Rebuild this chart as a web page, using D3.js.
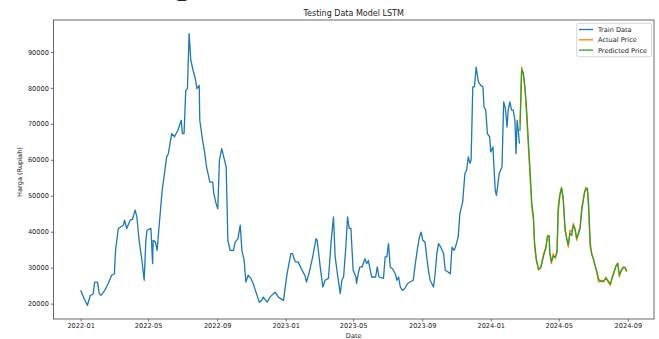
<!DOCTYPE html>
<html><head><meta charset="utf-8">
<script src="https://cdn.jsdelivr.net/npm/d3@7"></script>
<style>
html,body{margin:0;padding:0;background:#fff;}
svg{display:block;font-family:"DejaVu Sans",sans-serif;}
</style></head>
<body><svg id="c" width="659" height="339"></svg>
<script>
const trainDates = ["2022-01-01","2022-01-07","2022-01-13","2022-01-18","2022-01-23","2022-01-26","2022-01-31","2022-02-03","2022-02-06","2022-02-13","2022-02-19","2022-02-25","2022-03-02","2022-03-04","2022-03-09","2022-03-18","2022-03-20","2022-03-24","2022-03-30","2022-04-03","2022-04-08","2022-04-11","2022-04-15","2022-04-20","2022-04-24","2022-04-27","2022-04-29","2022-05-06","2022-05-09","2022-05-10","2022-05-14","2022-05-17","2022-05-20","2022-05-24","2022-05-26","2022-05-30","2022-06-03","2022-06-06","2022-06-12","2022-06-17","2022-06-23","2022-06-29","2022-07-01","2022-07-04","2022-07-07","2022-07-10","2022-07-13","2022-07-16","2022-07-20","2022-07-24","2022-07-27","2022-07-31","2022-08-01","2022-08-06","2022-08-10","2022-08-13","2022-08-19","2022-08-24","2022-08-26","2022-08-30","2022-09-02","2022-09-05","2022-09-09","2022-09-14","2022-09-17","2022-09-20","2022-09-24","2022-09-30","2022-10-03","2022-10-08","2022-10-12","2022-10-15","2022-10-19","2022-10-22","2022-10-26","2022-10-31","2022-11-04","2022-11-09","2022-11-15","2022-11-19","2022-11-22","2022-11-29","2022-12-04","2022-12-13","2022-12-19","2022-12-28","2023-01-03","2023-01-10","2023-01-13","2023-01-18","2023-01-23","2023-01-30","2023-02-04","2023-02-07","2023-02-12","2023-02-18","2023-02-24","2023-02-26","2023-03-03","2023-03-08","2023-03-12","2023-03-18","2023-03-23","2023-03-27","2023-03-30","2023-04-03","2023-04-08","2023-04-11","2023-04-14","2023-04-18","2023-04-21","2023-04-24","2023-04-27","2023-05-01","2023-05-06","2023-05-07","2023-05-10","2023-05-13","2023-05-17","2023-05-22","2023-05-25","2023-05-28","2023-05-31","2023-06-03","2023-06-10","2023-06-13","2023-06-16","2023-06-24","2023-06-27","2023-06-30","2023-07-03","2023-07-06","2023-07-10","2023-07-15","2023-07-18","2023-07-21","2023-07-24","2023-07-28","2023-08-01","2023-08-06","2023-08-10","2023-08-16","2023-08-19","2023-08-23","2023-08-27","2023-08-30","2023-09-02","2023-09-06","2023-09-09","2023-09-12","2023-09-15","2023-09-18","2023-09-21","2023-09-24","2023-09-27","2023-09-30","2023-10-04","2023-10-09","2023-10-12","2023-10-17","2023-10-21","2023-10-24","2023-10-28","2023-10-31","2023-11-04","2023-11-07","2023-11-12","2023-11-16","2023-11-19","2023-11-22","2023-11-25","2023-11-27","2023-11-30","2023-12-03","2023-12-06","2023-12-10","2023-12-14","2023-12-18","2023-12-20","2023-12-23","2023-12-26","2023-12-30","2024-01-01","2024-01-05","2024-01-06","2024-01-09","2024-01-11","2024-01-13","2024-01-16","2024-01-21","2024-01-24","2024-01-27","2024-01-30","2024-02-01","2024-02-04","2024-02-07","2024-02-10","2024-02-13","2024-02-15","2024-02-17","2024-02-19","2024-02-21"];
const trainValues = [23700,21400,19500,22300,22600,26000,26000,22800,22300,23700,25600,27900,28300,34800,40900,41800,43200,40900,43200,43400,46000,44100,37600,32000,26500,37600,40400,40900,31100,37600,37100,34800,40400,47800,51500,56000,60800,61700,67300,66400,68200,71000,67300,67300,79300,79800,95100,87700,84900,82600,79800,80700,71000,65400,61700,58000,53800,53800,50600,47800,46400,59900,63100,59900,58000,37600,34800,34800,37100,38100,41800,34800,32000,26000,27900,27000,25600,23200,20400,20900,21800,20400,21800,23200,21800,20900,27900,33900,33900,31600,31600,29300,27900,26000,28800,33000,38100,37600,30700,24600,26500,27000,37600,44100,33000,28300,22800,26500,27400,35700,44100,40900,40900,29300,27400,25600,28300,30200,30200,32500,31100,32000,29700,27400,27400,30200,27400,27000,33000,33000,36700,30200,29700,28300,26500,27400,24600,23700,24200,25600,26000,26500,30200,34800,38500,39900,37600,37100,33000,29300,26500,25600,24600,28300,33900,36700,35700,33900,29300,28800,28300,35700,34800,36200,38500,45000,48300,56200,57100,60800,59000,59900,80300,80300,85800,81700,80700,80300,74700,73800,67300,66400,62200,63600,59900,51500,50100,52400,56200,58000,76100,74300,69100,73800,76100,73800,73800,71000,61700,71000,68200,64500];
const testDates = ["2024-02-22","2024-02-25","2024-02-28","2024-03-02","2024-03-05","2024-03-08","2024-03-11","2024-03-14","2024-03-17","2024-03-19","2024-03-22","2024-03-26","2024-03-30","2024-04-04","2024-04-08","2024-04-11","2024-04-14","2024-04-15","2024-04-18","2024-04-21","2024-04-25","2024-04-28","2024-04-30","2024-05-03","2024-05-06","2024-05-09","2024-05-12","2024-05-15","2024-05-18","2024-05-21","2024-05-24","2024-05-27","2024-05-30","2024-06-02","2024-06-05","2024-06-08","2024-06-11","2024-06-16","2024-06-18","2024-06-21","2024-06-23","2024-06-26","2024-06-29","2024-07-02","2024-07-05","2024-07-08","2024-07-11","2024-07-16","2024-07-20","2024-07-24","2024-07-28","2024-08-01","2024-08-04","2024-08-07","2024-08-11","2024-08-14","2024-08-17","2024-08-20","2024-08-24","2024-08-27","2024-08-30"];
const actualPrice = [70000,85800,83500,79300,71900,63600,55200,46900,43200,35700,32000,29300,30200,33900,35700,39000,38500,33900,31100,33900,32500,34800,46900,50600,52400,48700,40400,38500,35700,40400,39900,42300,40400,37600,39900,41300,46900,50600,52400,51500,46900,35700,33900,32000,30700,28300,26000,26500,26000,27400,26000,25100,27400,28800,30700,31100,27400,29300,30200,30000,28800];
const predictedPrice = [68000,85000,84200,80100,73500,64800,57000,48000,44000,37000,32600,29600,29900,33200,35400,38600,38900,34600,31600,33100,33000,34200,45500,50000,52100,49500,41600,38000,36400,39600,38900,41800,40900,38200,39300,40800,45800,51200,51600,52100,48200,36900,33500,32400,30300,28900,26800,26100,26400,27000,26300,25500,27100,28400,30400,31300,28000,29000,30000,30100,29100];
const yTickValues = [20000,30000,40000,50000,60000,70000,80000,90000];
const xTickLabels = ["2022-01","2022-05","2022-09","2023-01","2023-05","2023-09","2024-01","2024-05","2024-09"];
const seriesNames = ["Train Data","Actual Price","Predicted Price"];
const seriesColors = ["#1f77b4","#ff7f0e","#2ca02c"];

const parse = d3.timeParse("%Y-%m-%d");
const parseM = d3.timeParse("%Y-%m");
const train = trainDates.map((d,i)=>({d:parse(d),v:trainValues[i]}));
const actual = testDates.map((d,i)=>({d:parse(d),v:actualPrice[i]}));
const pred = testDates.map((d,i)=>({d:parse(d),v:predictedPrice[i]}));

const L=53.4,R=654,T=20,B=319;
const svg=d3.select("#c");

// fragment of text from the document above (cut off at the top edge, as in the reference)
svg.append("text").attr("x",172).attr("y",-7.6).attr("font-family","Liberation Serif").attr("font-size",40).attr("fill","#222").text("g");

const all=train.concat(actual);
const tExt=d3.extent(all,d=>+d.d);
const tPad=(tExt[1]-tExt[0])*0.05;
const x=d3.scaleTime().domain([new Date(tExt[0]-tPad),new Date(tExt[1]+tPad)]).range([L,R]);
const vMin=d3.min([d3.min(trainValues),d3.min(actualPrice),d3.min(predictedPrice)]);
const vMax=d3.max([d3.max(trainValues),d3.max(actualPrice),d3.max(predictedPrice)]);
const vPad=(vMax-vMin)*0.05;
const y=d3.scaleLinear().domain([vMin-vPad,vMax+vPad]).range([B,T]);

const line=d3.line().x(d=>x(d.d)).y(d=>y(d.v));
const g=svg.append("g");
[train,actual,pred].forEach((s,i)=>{
  g.append("path").datum(s).attr("d",line).attr("fill","none").attr("stroke",seriesColors[i]).attr("stroke-width",1.3).attr("stroke-linejoin","round");
});

// axes
const xa=svg.append("g").attr("transform",`translate(0,${B})`)
 .call(d3.axisBottom(x).tickValues(xTickLabels.map(parseM)).tickFormat(d3.timeFormat("%Y-%m")).tickSize(2.5).tickPadding(2));
const ya=svg.append("g").attr("transform",`translate(${L},0)`)
 .call(d3.axisLeft(y).tickValues(yTickValues).tickFormat(d3.format("d")).tickSize(2.5).tickPadding(2));
[xa,ya].forEach(a=>{
  a.select(".domain").remove();
  a.selectAll("line").attr("stroke","#333").attr("stroke-width",0.7);
  a.selectAll("text").attr("font-family","DejaVu Sans").attr("font-size",6.6).attr("fill","#222");
});
// frame
svg.append("rect").attr("x",L).attr("y",T).attr("width",R-L).attr("height",B-T).attr("fill","none").attr("stroke","#444").attr("stroke-width",0.8);

// labels
svg.append("text").attr("x",(L+R)/2).attr("y",15.5).attr("text-anchor","middle").attr("font-size",8).attr("fill","#222").text("Testing Data Model LSTM");
svg.append("text").attr("x",(L+R)/2).attr("y",338).attr("text-anchor","middle").attr("font-size",6.6).attr("fill","#222").text("Date");
svg.append("text").attr("transform","translate(22,172) rotate(-90)").attr("text-anchor","middle").attr("font-size",6.6).attr("fill","#222").text("Harga (Rupiah)");

// legend
const lg=svg.append("g");
lg.append("rect").attr("x",576.7).attr("y",23.3).attr("width",75).attr("height",33.4).attr("rx",2).attr("fill","#fff").attr("fill-opacity",0.8).attr("stroke","#ccc").attr("stroke-width",0.8);
seriesNames.forEach((n,i)=>{
  const yy=29.5+i*10.3;
  lg.append("line").attr("x1",579).attr("x2",593).attr("y1",yy).attr("y2",yy).attr("stroke",seriesColors[i]).attr("stroke-width",1.3);
  lg.append("text").attr("x",598).attr("y",yy+2.4).attr("font-size",6.6).attr("fill","#222").text(n);
});
</script></body></html>
